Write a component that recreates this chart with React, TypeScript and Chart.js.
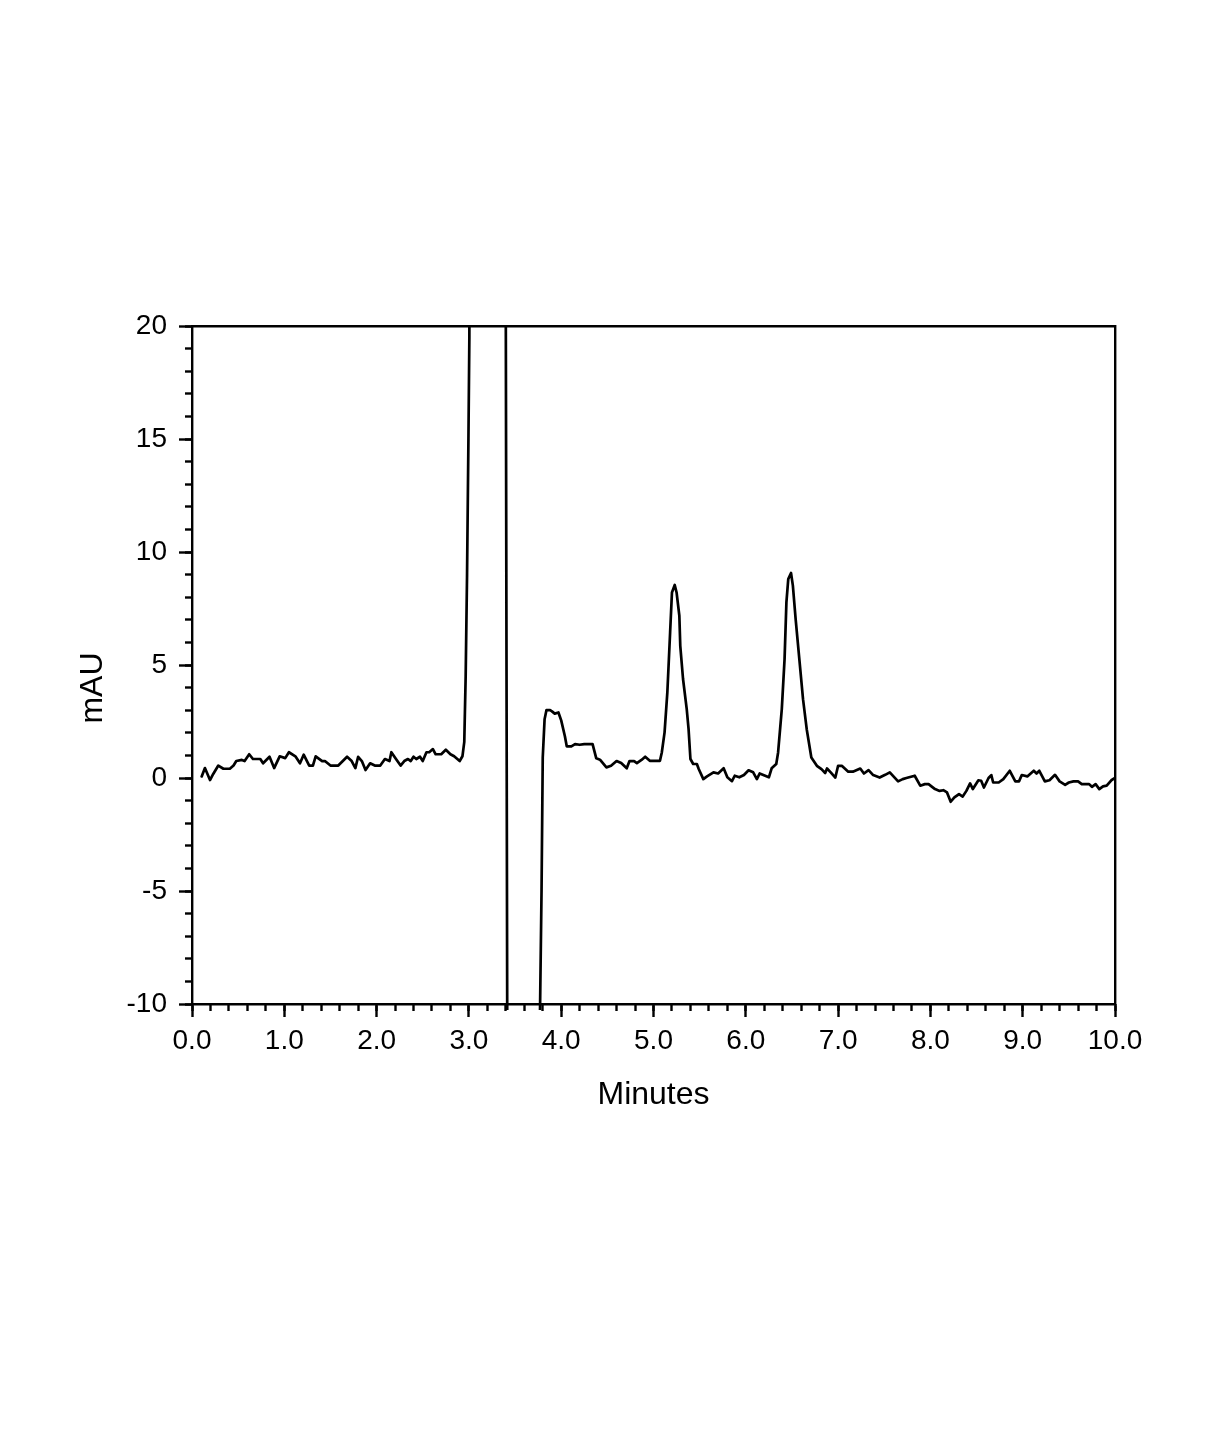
import React, { useEffect, useRef } from 'react';
import { Chart, registerables } from 'chart.js';

Chart.register(...registerables);

// Retention time (minutes) of each sampled point of the chromatogram
const minutes: number[] = [
  0.105, 0.14, 0.195, 0.23, 0.285, 0.34, 0.41, 0.45, 0.48, 0.54, 0.57, 0.62, 0.66, 0.74, 0.77, 0.84, 0.89, 0.95,
  1.01, 1.05, 1.12, 1.17, 1.21, 1.27, 1.31, 1.34, 1.41, 1.44, 1.5, 1.585, 1.68, 1.73, 1.77, 1.8, 1.84, 1.88, 1.93, 1.98,
  2.04, 2.09, 2.14, 2.16, 2.21, 2.26, 2.3, 2.34, 2.37, 2.4, 2.43, 2.47, 2.5, 2.54, 2.57, 2.61, 2.64, 2.7, 2.75, 2.8,
  2.84, 2.9, 2.93, 2.95, 2.965, 2.98, 2.995, 3.005, 3.015, 3.1, 3.3, 3.39, 3.425, 3.6, 3.7, 3.787,
  3.8, 3.82, 3.84, 3.88, 3.9, 3.93, 3.97, 4.0, 4.04, 4.06, 4.11, 4.15, 4.2, 4.25, 4.33, 4.34, 4.38, 4.42, 4.49, 4.54,
  4.6, 4.65, 4.71, 4.74, 4.79, 4.82, 4.87, 4.91, 4.96, 5.07, 5.09, 5.12, 5.15, 5.18, 5.2, 5.23, 5.25, 5.28, 5.29, 5.32,
  5.36, 5.38, 5.4, 5.43, 5.47, 5.49, 5.54, 5.58, 5.65, 5.7, 5.76, 5.8, 5.85, 5.88, 5.93, 5.98, 6.03, 6.08, 6.12, 6.15,
  6.21, 6.25, 6.28, 6.33, 6.35, 6.39, 6.42, 6.44, 6.46, 6.49, 6.51, 6.54, 6.58, 6.62, 6.66, 6.71, 6.77, 6.82, 6.86,
  6.88, 6.92, 6.97, 7.0, 7.04, 7.11, 7.16, 7.24, 7.28, 7.33, 7.38, 7.45, 7.51, 7.56, 7.6, 7.65, 7.7, 7.74, 7.83, 7.89,
  7.94, 7.98, 8.05, 8.1, 8.14, 8.18, 8.22, 8.26, 8.31, 8.35, 8.39, 8.43, 8.46, 8.52, 8.55, 8.58, 8.63, 8.66, 8.68,
  8.74, 8.79, 8.86, 8.92, 8.96, 8.99, 9.05, 9.12, 9.15, 9.18, 9.24, 9.29, 9.35, 9.4, 9.46, 9.5, 9.55, 9.6, 9.64, 9.72,
  9.75, 9.79, 9.83, 9.87, 9.91, 9.96, 10.0,
];

// Detector response (mAU) at each retention time above; the solvent front runs off scale
const mau: number[] = [
  0.07, 0.44, -0.09, 0.18, 0.55, 0.41, 0.41, 0.55, 0.75, 0.8, 0.75, 1.05, 0.84, 0.84, 0.65, 0.94, 0.44, 0.96,
  0.88, 1.14, 0.96, 0.65, 1.03, 0.55, 0.55, 0.96, 0.75, 0.75, 0.55, 0.55, 0.94, 0.75, 0.44, 0.94, 0.75, 0.35, 0.65, 0.55,
  0.55, 0.84, 0.75, 1.14, 0.84, 0.55, 0.75, 0.84, 0.75, 0.94, 0.84, 0.94, 0.75, 1.14, 1.14, 1.28, 1.05, 1.05, 1.25, 1.05,
  0.96, 0.75, 0.96, 1.6, 4.5, 9.0, 15.0, 19.5, 60, 120, 120, 40, -30, -60, -33, -5,
  0.9, 2.6, 3.0, 3.0, 2.95, 2.85, 2.9, 2.55, 1.85, 1.4, 1.4, 1.5, 1.47, 1.5, 1.5, 1.5, 0.87, 0.81, 0.47, 0.54,
  0.75, 0.66, 0.43, 0.75, 0.75, 0.66, 0.8, 0.94, 0.76, 0.76, 1.13, 2.02, 3.79, 6.44, 8.21, 8.54, 8.21, 7.18, 5.85, 4.38,
  3.05, 2.16, 0.84, 0.62, 0.62, 0.4, -0.05, 0.07, 0.25, 0.2, 0.43, 0.03, -0.14, 0.1, 0.03, 0.13, 0.34, 0.25, -0.05, 0.2,
  0.1, 0.03, 0.43, 0.62, 1.13, 3.05, 5.26, 7.77, 8.8, 9.07, 8.51, 7.03, 5.26, 3.49, 2.16, 0.91, 0.54, 0.39, 0.22,
  0.42, 0.25, 0.02, 0.54, 0.54, 0.28, 0.28, 0.42, 0.2, 0.35, 0.13, 0.02, 0.14, 0.25, 0.07, -0.15, -0.05, 0.0, 0.1, -0.34,
  -0.27, -0.27, -0.49, -0.57, -0.54, -0.64, -1.05, -0.86, -0.71, -0.82, -0.57, -0.24, -0.49, -0.1, -0.12, -0.42, 0.0, 0.13, -0.2,
  -0.2, -0.05, 0.32, -0.15, -0.15, 0.13, 0.07, 0.32, 0.2, 0.32, -0.15, -0.1, 0.14, -0.15, -0.3, -0.2, -0.15, -0.15, -0.27, -0.27,
  -0.39, -0.27, -0.49, -0.37, -0.34, -0.1, 0.0,
];

const xRange = [0, 10];
const yRange = [-10, 20];
const xMajorStep = 1;
const xMinorStep = 0.2;
const yMajorStep = 5;
const yMinorStep = 1;
const xTitle = 'Minutes';
const yTitle = 'mAU';

const FONT = 'Arial, "Liberation Sans", Helvetica, sans-serif';
const INK = '#000000';
const AXIS_W = 2.4;

const yTitlePlugin = {
  id: 'yTitlePlugin',
  afterDraw(chart: any) {
    const { ctx, chartArea } = chart;
    ctx.save();
    ctx.font = `32px ${FONT}`;
    ctx.fillStyle = INK;
    ctx.textAlign = 'center';
    ctx.textBaseline = 'middle';
    ctx.translate(chartArea.left - 99, (chartArea.top + chartArea.bottom) / 2 + 23);
    ctx.rotate(-Math.PI / 2);
    ctx.fillText(yTitle, 0, 0);
    ctx.restore();
  },
};

export default function App() {
  const ref = useRef<HTMLCanvasElement | null>(null);

  useEffect(() => {
    const canvas = ref.current;
    if (!canvas) return;
    const points = minutes.map((t, i) => ({ x: t, y: mau[i] }));
    const hidden = { drawOnChartArea: false };
    const chart = new Chart(canvas, {
      type: 'line',
      data: {
        datasets: [
          {
            data: points,
            xAxisID: 'x',
            yAxisID: 'y',
            borderColor: INK,
            borderWidth: 2.7,
            borderJoinStyle: 'round',
            borderCapStyle: 'round',
            pointRadius: 0,
            tension: 0,
            fill: false,
            clip: { left: 0, top: 0, right: 0, bottom: 6 } as any,
          },
        ],
      },
      options: {
        animation: false,
        responsive: false,
        devicePixelRatio: 1,
        events: [],
        layout: { padding: { left: 92, right: 102, top: 326, bottom: 323 } },
        plugins: { legend: { display: false }, tooltip: { enabled: false }, title: { display: false } },
        scales: {
          x: {
            type: 'linear',
            axis: 'x',
            position: 'bottom',
            weight: 1,
            min: xRange[0],
            max: xRange[1],
            ticks: {
              stepSize: xMajorStep,
              autoSkip: false,
              maxRotation: 0,
              minRotation: 0,
              padding: 7,
              color: INK,
              font: { family: FONT, size: 28 },
              callback: (v: any) => Number(v).toFixed(1),
            },
            grid: { ...hidden, drawTicks: true, tickLength: 13, tickWidth: AXIS_W, tickColor: INK },
            border: { display: true, color: INK, width: AXIS_W },
            title: { display: true, text: xTitle, color: INK, font: { family: FONT, size: 32 }, padding: 0 },
            afterFit: (s: any) => {
              s.height = 110;
            },
          },
          xMinor: {
            type: 'linear',
            axis: 'x',
            position: 'bottom',
            weight: 0,
            min: xRange[0],
            max: xRange[1],
            ticks: { stepSize: xMinorStep, display: false, autoSkip: false },
            grid: { ...hidden, drawTicks: true, tickLength: 7, tickWidth: AXIS_W, tickColor: INK },
            border: { display: false },
            afterFit: (s: any) => {
              s.height = 0;
            },
          },
          xTop: {
            type: 'linear',
            axis: 'x',
            position: 'top',
            min: xRange[0],
            max: xRange[1],
            ticks: { display: false },
            grid: { ...hidden, drawTicks: false },
            border: { display: true, color: INK, width: AXIS_W },
            afterFit: (s: any) => {
              s.height = 0;
            },
          },
          y: {
            type: 'linear',
            axis: 'y',
            position: 'left',
            weight: 1,
            min: yRange[0],
            max: yRange[1],
            ticks: {
              stepSize: yMajorStep,
              autoSkip: false,
              padding: 12,
              color: INK,
              font: { family: FONT, size: 28 },
              callback: (v: any) => String(v),
            },
            grid: { ...hidden, drawTicks: true, tickLength: 13, tickWidth: AXIS_W, tickColor: INK },
            border: { display: true, color: INK, width: AXIS_W },
            afterFit: (s: any) => {
              s.width = 100;
            },
          },
          yMinor: {
            type: 'linear',
            axis: 'y',
            position: 'left',
            weight: 0,
            min: yRange[0],
            max: yRange[1],
            ticks: { stepSize: yMinorStep, display: false, autoSkip: false },
            grid: { ...hidden, drawTicks: true, tickLength: 7, tickWidth: AXIS_W, tickColor: INK },
            border: { display: false },
            afterFit: (s: any) => {
              s.width = 0;
            },
          },
          yRight: {
            type: 'linear',
            axis: 'y',
            position: 'right',
            min: yRange[0],
            max: yRange[1],
            ticks: { display: false },
            grid: { ...hidden, drawTicks: false },
            border: { display: true, color: INK, width: AXIS_W },
            afterFit: (s: any) => {
              s.width = 0;
            },
          },
        },
      } as any,
      plugins: [yTitlePlugin],
    });
    return () => chart.destroy();
  }, []);

  return (
    <div style={{ position: 'absolute', left: 0, top: 0, width: 1217, height: 1437, background: '#ffffff' }}>
      <canvas ref={ref} width={1217} height={1437} style={{ display: 'block', width: 1217, height: 1437 }} />
    </div>
  );
}
